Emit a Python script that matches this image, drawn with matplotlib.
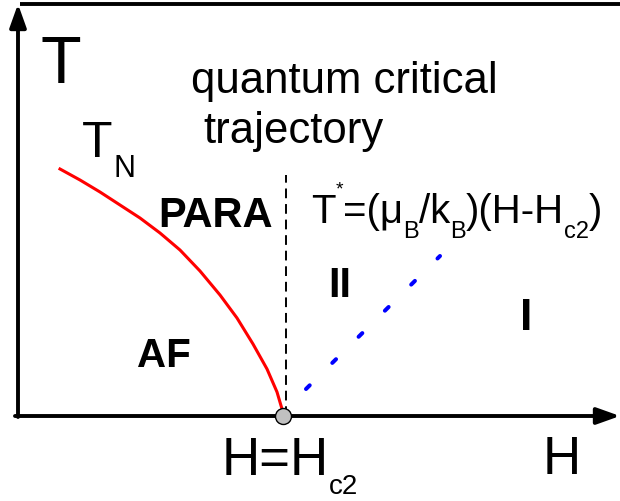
import numpy as np
import matplotlib.pyplot as plt

plt.rcParams['font.family'] = ['Liberation Sans', 'DejaVu Sans']

# schematic data (arbitrary units, origin at the axis corner)
Hc2 = 265
tn_H = np.array([42, 62, 82, 102, 122, 142, 162, 182, 202, 219, 235, 249, 259, 264, 265])
tn_T = np.array([247, 236, 224, 211, 198, 183, 166, 145, 121, 98, 72, 47, 24, 7, 1])
qc_H = np.array([268, 268])
qc_T = np.array([0, 241])
star_H = np.array([288, 422])
star_T = np.array([27, 160])
H_end = 602
T_end = 412

fig = plt.figure(figsize=(6.2, 5.01), dpi=100)
ax = fig.add_axes([0, 0, 1, 1])
ax.set_xlim(-18, 602)
ax.set_ylim(-85, 416)
ax.axis('off')

# axes with arrows
arr = dict(arrowstyle='-|>,head_length=1.4,head_width=0.5', lw=2.8, color='k',
           shrinkA=0, shrinkB=0, mutation_scale=10)
ax.annotate('', xy=(H_end, 0), xytext=(-3, 0), arrowprops=arr, annotation_clip=False)
ax.annotate('', xy=(0, T_end), xytext=(0, -1), arrowprops=arr, annotation_clip=False)
ax.plot([2, H_end], [T_end + 0.5, T_end + 0.5], color='k', lw=2.8, clip_on=False,
        solid_capstyle='butt')

# lines
ax.plot(tn_H, tn_T, color='red', lw=2.2, solid_joinstyle='round')
ax.plot(qc_H, qc_T, color='k', lw=1.4, dashes=(5, 3))
ax.plot(star_H, star_T, color='blue', lw=2.9, dashes=(1.3, 7.9),
        dash_capstyle='round')
ax.plot(Hc2, 0, 'o', ms=11.5, mfc='#c0c0c0', mec='k', mew=1, zorder=5, clip_on=False)

renderer = fig.canvas.get_renderer()


def chain(x, y, parts):
    # parts: (text, size, dy)
    for s, size, dy in parts:
        t = ax.text(x, y + dy, s, fontsize=size, ha='left', va='baseline')
        x += t.get_window_extent(renderer).width


# labels
ax.text(22, 333, 'T', fontsize=48, ha='left', va='baseline')
ax.text(326, 323, 'quantum critical', fontsize=31.5, ha='center', va='baseline')
ax.text(276, 273, 'trajectory', fontsize=31.5, ha='center', va='baseline')
ax.text(64, 259, 'T', fontsize=36, ha='left', va='baseline')
ax.text(95, 239, 'N', fontsize=22, ha='left', va='baseline')
ax.text(140, 189, 'PARA', fontsize=30, fontweight='bold', ha='left', va='baseline')
ax.text(119, 49, 'AF', fontsize=29, fontweight='bold', ha='left', va='baseline')
ax.text(322, 119, 'II', fontsize=30, fontweight='bold', ha='center', va='baseline')
ax.text(508, 86, 'I', fontsize=32, fontweight='bold', ha='center', va='baseline')

chain(293, 193, [('T', 29, 0), ('*', 14, 29), ('=(\u03bc', 29, 0), ('B', 17, -15),
                 ('/k', 29, 0), ('B', 17, -15), (')(H-H', 29, 0), ('c2', 17, -15),
                 (')', 29, 0)])
chain(204, -59, [('H=H', 38, 0), ('c2', 20, -19)])
ax.text(525, -58, 'H', fontsize=38, ha='left', va='baseline')

fig.savefig('out.png', dpi=100)
